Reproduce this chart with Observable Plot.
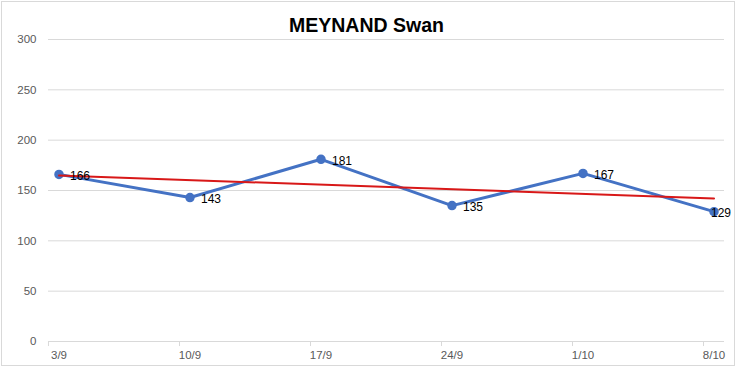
<!DOCTYPE html>
<html>
<head>
<meta charset="utf-8">
<script src="https://cdn.jsdelivr.net/npm/d3@7"></script>
<script src="https://cdn.jsdelivr.net/npm/@observablehq/plot@0.6"></script>
<style>
  html, body { margin: 0; padding: 0; background: #fff; }
  #chart svg { display: block; outline: 1px solid #d9d9d9; outline-offset: -2px; }
</style>
</head>
<body>
<div id="chart"></div>
<script>
const title = "MEYNAND Swan";
const categories = ["3/9", "10/9", "17/9", "24/9", "1/10", "8/10"];
const values = [166, 143, 181, 135, 167, 129];
const yTicks = [0, 50, 100, 150, 200, 250, 300];

const rows = categories.map((c, i) => ({i, label: c, value: values[i]}));
const last = rows.length - 1;

const blue = "#4472C4";
const red = "#d81818";
const grid = "#d9d9d9";
const font = "Liberation Sans, Arial, sans-serif";

const chart = Plot.plot({
  width: 736,
  height: 367,
  marginTop: 39,
  marginBottom: 26,
  marginLeft: 48,
  marginRight: 12,
  style: {fontFamily: font, background: "#fff"},
  x: {type: "linear", domain: [-0.08, last + 0.08]},
  y: {domain: [0, 300]},
  marks: [
    Plot.gridY(yTicks, {stroke: grid, strokeOpacity: 1}),
    Plot.axisY(yTicks, {tickSize: 0, tickPadding: 12, fill: "#595959", fontSize: 11.5, label: null}),
    Plot.axisX(rows.map(d => d.i), {tickSize: 0, tickPadding: 9, fill: "#595959", fontSize: 11.5, label: null,
      tickFormat: i => categories[i]}),
    Plot.ruleX(rows, {x: "i", y1: 0, y2: -5, dx: -10.5, stroke: grid}),
    Plot.lineY(rows, {x: "i", y: "value", stroke: blue, strokeWidth: 3, strokeLinejoin: "round"}),
    Plot.dot(rows, {x: "i", y: "value", r: 4, fill: blue, stroke: blue}),
    Plot.linearRegressionY(rows, {x: "i", y: "value", stroke: red, strokeWidth: 2, ci: 0}),
    Plot.text(rows, {filter: d => d.i < last, x: "i", y: "value", text: d => String(d.value),
      dx: 11, dy: 1.5, textAnchor: "start", fill: "#000", fontSize: 12}),
    Plot.text(rows, {filter: d => d.i === last, x: "i", y: "value", text: d => String(d.value),
      dx: -3, dy: 1.5, textAnchor: "start", fill: "#000", fontSize: 12}),
    Plot.text([title], {frameAnchor: "top", lineAnchor: "middle", dx: -20, dy: -14, fontSize: 19.5, fontWeight: "bold", fill: "#000"})
  ]
});
document.getElementById("chart").appendChild(chart);
</script>
</body>
</html>
